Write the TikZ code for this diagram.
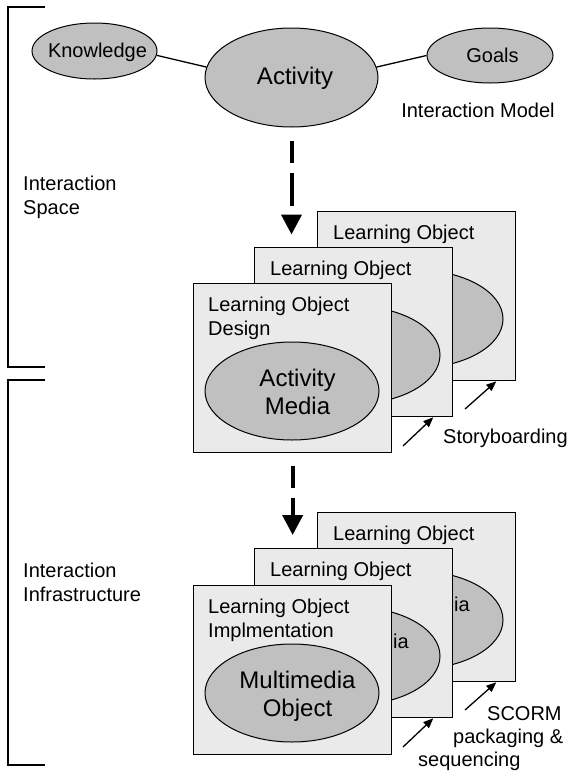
\documentclass[tikz,border=0pt]{standalone}
\usepackage{fontspec}
\setmainfont{Liberation Sans}
\usetikzlibrary{arrows.meta,shapes.geometric}
\definecolor{boxfill}{RGB}{234,234,234}
\definecolor{ellfill}{RGB}{192,192,192}
\begin{document}
\begin{tikzpicture}[x=1pt,y=-1pt,
  lbl/.style={font=\fontsize{20}{24}\selectfont, inner sep=0pt},
  big/.style={font=\fontsize{24}{28}\selectfont, inner sep=0pt, align=center},
  oval/.style={ellipse, draw, fill=ellfill, line width=1pt, inner sep=0pt},
  lobox/.style={draw, fill=boxfill, line width=1.3pt, minimum width=198pt, minimum height=169pt, anchor=north west, inner sep=0pt},
  conn/.style={line width=1.3pt},
  flow/.style={line width=4pt, dash pattern=on 22pt off 10pt on 33pt off 10pt, -{Triangle[length=20pt,width=20pt]}},
  smallarr/.style={line width=1.3pt, -{Triangle[length=10pt,width=8pt]}},
  brk/.style={line width=1.3pt}]
\useasboundingbox (0,0) rectangle (569,774);
\fill[white] (0,0) rectangle (569,774);

% brackets
\draw[brk] (45,7) -- (8,7) -- (8,367) -- (45,367);
\draw[brk] (45,380) -- (8,380) -- (8,765) -- (45,765);
\node[lbl, align=left, anchor=north west] (ispace) at (23,176) {Interaction\\Space};
\node[lbl, align=left, anchor=north west] (iinfra) at (23,563) {Interaction\\Infrastructure};

% interaction model
\node[oval, minimum width=125pt, minimum height=56pt] (know) at (94.5,51) {};
\node[lbl] (knowt) at ([xshift=3pt,yshift=-1pt]know.center) {Knowledge};
\node[oval, minimum width=173pt, minimum height=99pt] (act) at (291.5,77.5) {};
\node[big] (actt) at ([xshift=3.5pt,yshift=-1pt]act.center) {Activity};
\node[oval, minimum width=126pt, minimum height=55pt] (goals) at (490,55.5) {};
\node[lbl] (goalst) at ([xshift=2.5pt]goals.center) {Goals};
\draw[conn] (know.-4) -- (act.173);
\draw[conn] (act.7) -- (goals.west);
\node[lbl] (imodel) at (478,110) {Interaction Model};

% design stack
\node[lobox] (tb3) at (317,211) {};
\node[oval, minimum width=174pt, minimum height=98pt] (te3) at ([xshift=99pt,yshift=-108pt]tb3.north west) {};
\node[lbl, anchor=north west] (tt3) at ([xshift=16pt,yshift=-14pt]tb3.north west) {Learning Object};
\node[lobox] (tb2) at (254,247) {};
\node[oval, minimum width=174pt, minimum height=98pt] (te2) at ([xshift=99pt,yshift=-108pt]tb2.north west) {};
\node[lbl, anchor=north west] (tt2) at ([xshift=16pt,yshift=-14pt]tb2.north west) {Learning Object};
\node[lobox] (tb1) at (193,283) {};
\node[oval, minimum width=174pt, minimum height=98pt] (te1) at ([xshift=99pt,yshift=-108pt]tb1.north west) {};
\node[lbl, align=left, anchor=north west] (tt1) at ([xshift=15pt,yshift=-14pt]tb1.north west) {Learning Object\\Design};
\node[big] (te1t) at ([xshift=5.5pt,yshift=-1pt]te1.center) {Activity\\Media};

\coordinate (sa1) at (465,409);
\draw[smallarr] (sa1) -- ([xshift=-20pt]tb3.south east);
\coordinate (sa2) at (403,446);
\draw[smallarr] (sa2) -- ([xshift=-20pt]tb2.south east);
\node[lbl, anchor=base west] (story) at (443,443) {Storyboarding};

% flows
\coordinate (f1s) at ([yshift=-13pt]act.south);
\coordinate (f1e) at ([yshift=12.5pt]tb2.north west -| act.south);
\draw[flow] (f1s) -- (f1e);

% implementation stack
\node[lobox] (bb3) at (317,512) {};
\node[oval, minimum width=174pt, minimum height=98pt] (be3) at ([xshift=99pt,yshift=-108pt]bb3.north west) {};
\node[lbl, anchor=north west] (bt3) at ([xshift=16pt,yshift=-14pt]bb3.north west) {Learning Object};
\node[lobox] (bb2) at (254,548) {};
\node[oval, minimum width=174pt, minimum height=98pt] (be2) at ([xshift=99pt,yshift=-108pt]bb2.north west) {};
\node[lbl, anchor=north west] (bt2) at ([xshift=16pt,yshift=-14pt]bb2.north west) {Learning Object};
\node[lbl, anchor=base west] (be3t) at (454,611) {ia};
\node[lbl, anchor=base west] (be2t) at (393,648) {ia};
\node[lobox] (bb1) at (193,585) {};
\node[oval, minimum width=174pt, minimum height=98pt] (be1) at ([xshift=99pt,yshift=-108pt]bb1.north west) {};
\node[lbl, align=left, anchor=north west] (bt1) at ([xshift=15pt,yshift=-14pt]bb1.north west) {Learning Object\\Implmentation};
\node[big] (be1t) at ([xshift=5.5pt,yshift=-3pt]be1.center) {Multimedia\\Object};

\coordinate (f2s) at ([yshift=-13pt]tb1.south);
\coordinate (f2e) at ([yshift=13pt]bb2.north west -| tb1.south);
\draw[flow] (f2s) -- (f2e);

\coordinate (sb1) at (465,710);
\draw[smallarr] (sb1) -- ([xshift=-20pt]bb3.south east);
\coordinate (sb2) at (403,747);
\draw[smallarr] (sb2) -- ([xshift=-20pt]bb2.south east);
\node[lbl, anchor=base west] (scorm) at (487,720) {SCORM};
\node[lbl, anchor=base west] (pack) at (453,743) {packaging \&};
\node[lbl, anchor=base west] (seq) at (418,766) {sequencing};
\end{tikzpicture}
\end{document}
